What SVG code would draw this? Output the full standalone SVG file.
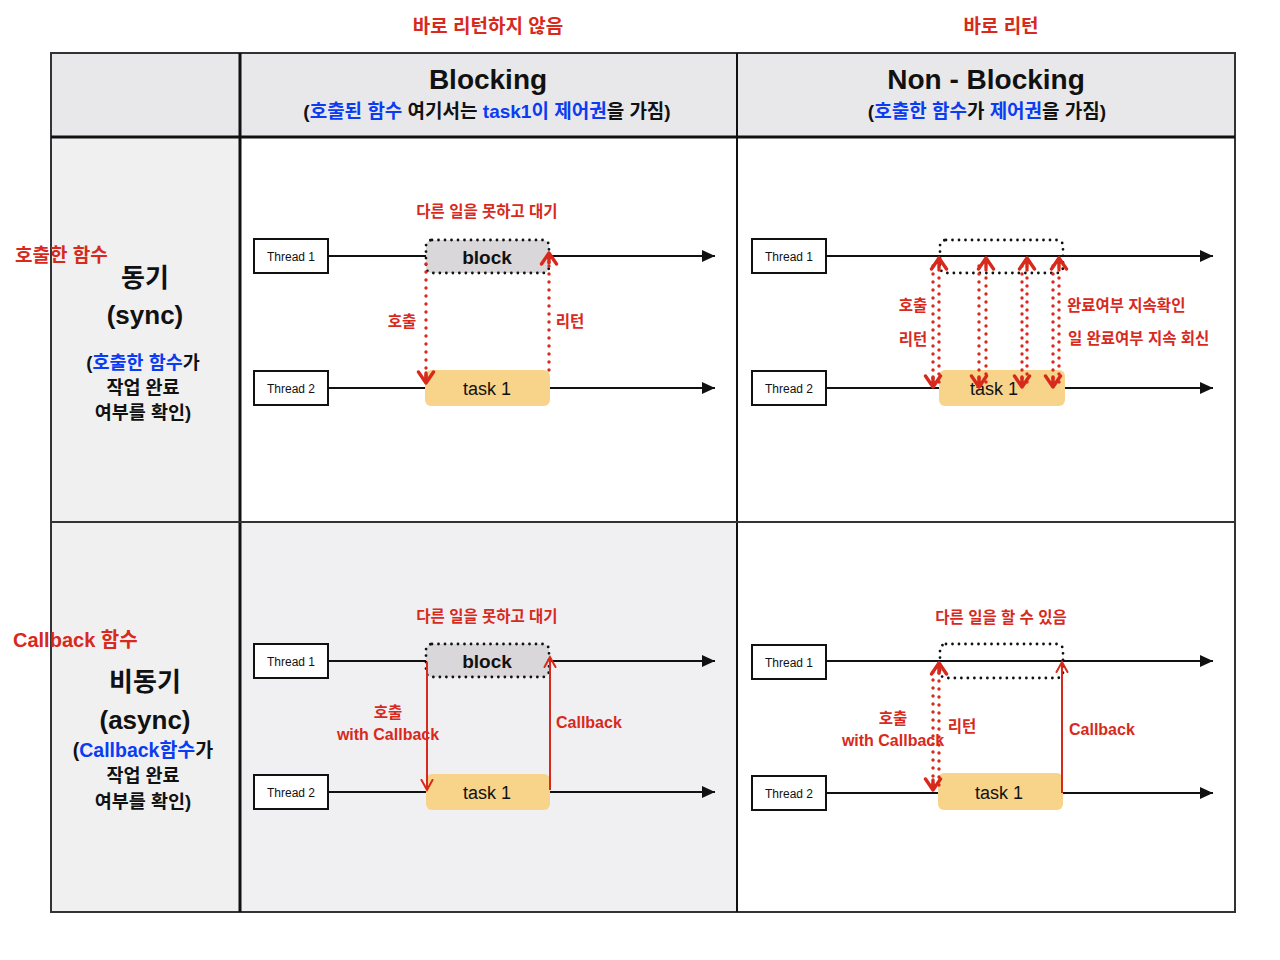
<svg xmlns="http://www.w3.org/2000/svg" width="1280" height="960" viewBox="0 0 1280 960">
<defs>
<style>
text{font-family:"Liberation Sans","Noto Sans CJK KR",sans-serif;}
.red{fill:#d8291d;font-weight:bold;font-size:15.5px;}
.blue{fill:#0b3cf2;}
.hd{font-weight:bold;fill:#111;}
.thr{fill:#fff;stroke:#111;stroke-width:2;}
.thrt{font-size:12px;fill:#111;text-anchor:middle;}
.tl{stroke:#111;stroke-width:2;fill:none;marker-end:url(#ba);}
.tl0{stroke:#111;stroke-width:2;fill:none;}
.blk{fill:#d9d7d9;stroke:#111;stroke-width:2.8;stroke-dasharray:0 6.5;stroke-linecap:round;}
.dot{fill:none;stroke:#111;stroke-width:2.8;stroke-dasharray:0 6.5;stroke-linecap:round;}
.task{fill:#f8d48a;}
.rd{stroke:#d8291d;stroke-width:3.4;stroke-dasharray:0 8;stroke-linecap:round;fill:none;marker-end:url(#ra);}
.rs{stroke:#d8291d;stroke-width:2;fill:none;marker-end:url(#ra2);}
.lbl{font-size:18px;fill:#111;text-anchor:middle;}
</style>
<marker id="ba" markerUnits="userSpaceOnUse" markerWidth="14" markerHeight="12" refX="13" refY="6" orient="auto"><path d="M0,0 L13,6 L0,12 z" fill="#111"/></marker>
<marker id="ra" markerUnits="userSpaceOnUse" markerWidth="16" markerHeight="20" refX="13" refY="10" orient="auto"><path d="M2,2.5 L13,10 L2,17.5 M13,10 L3,10" fill="none" stroke="#d8291d" stroke-width="3.4" stroke-linecap="round" stroke-linejoin="round"/></marker>
<marker id="ra2" markerUnits="userSpaceOnUse" markerWidth="14" markerHeight="14" refX="11" refY="7" orient="auto"><path d="M1,1.5 L11,7 L1,12.5" fill="none" stroke="#d8291d" stroke-width="2" stroke-linecap="round"/></marker>
</defs>
<rect width="1280" height="960" fill="#fff"/>

<g id="table">
<rect x="51" y="53" width="1184" height="84" fill="#e8e8ea"/>
<rect x="51" y="137" width="189" height="775" fill="#f0f0f0"/>
<rect x="240" y="522" width="497" height="390" fill="#f0f0f2"/>
<rect x="51" y="53" width="1184" height="859" fill="none" stroke="#333" stroke-width="2"/>
<line x1="240" y1="53" x2="240" y2="912" stroke="#111" stroke-width="3"/>
<line x1="737" y1="53" x2="737" y2="912" stroke="#111" stroke-width="2"/>
<line x1="51" y1="137" x2="1235" y2="137" stroke="#111" stroke-width="3"/>
<line x1="51" y1="522" x2="1235" y2="522" stroke="#333" stroke-width="2"/>
</g>

<g id="top-labels">
<text x="488" y="33" class="red" text-anchor="middle" style="font-size:19px">바로 리턴하지 않음</text>
<text x="1001" y="33" class="red" text-anchor="middle" style="font-size:19px">바로 리턴</text>
</g>

<g id="header-blocking">
<text x="488" y="89" class="hd" font-size="28" text-anchor="middle">Blocking</text>
<text x="487" y="118" class="hd" font-size="19" text-anchor="middle">(<tspan class="blue">호출된 함수</tspan> 여기서는 <tspan class="blue">task1이 제어권</tspan>을 가짐)</text>
</g>
<g id="header-nonblocking">
<text x="986" y="89" class="hd" font-size="28" text-anchor="middle">Non - Blocking</text>
<text x="987" y="118" class="hd" font-size="19" text-anchor="middle">(<tspan class="blue">호출한 함수</tspan>가 <tspan class="blue">제어권</tspan>을 가짐)</text>
</g>

<g id="row-sync">
<text x="15" y="262" class="red" style="font-size:19px">호출한 함수</text>
<text x="145" y="287" class="hd" font-size="26" text-anchor="middle">동기</text>
<text x="145" y="324" class="hd" font-size="26" text-anchor="middle">(sync)</text>
<text x="143" y="369" class="hd" font-size="18.5" text-anchor="middle">(<tspan class="blue">호출한 함수</tspan>가</text>
<text x="143" y="394" class="hd" font-size="18.5" text-anchor="middle">작업 완료</text>
<text x="143" y="419" class="hd" font-size="18.5" text-anchor="middle">여부를 확인)</text>
</g>
<g id="row-async">
<text x="13" y="647" class="red" style="font-size:20px">Callback 함수</text>
<text x="145" y="691" class="hd" font-size="26" text-anchor="middle">비동기</text>
<text x="145" y="729" class="hd" font-size="26" text-anchor="middle">(async)</text>
<text x="143" y="757" class="hd" font-size="19.5" text-anchor="middle">(<tspan class="blue">Callback함수</tspan>가</text>
<text x="143" y="782" class="hd" font-size="18.5" text-anchor="middle">작업 완료</text>
<text x="143" y="808" class="hd" font-size="18.5" text-anchor="middle">여부를 확인)</text>
</g>

<g id="connectors">
<line x1="328" y1="256" x2="426" y2="256" class="tl0"/>
<line x1="549" y1="256" x2="715" y2="256" class="tl"/>
<line x1="328" y1="388" x2="715" y2="388" class="tl"/>
<line x1="826" y1="256" x2="1213" y2="256" class="tl"/>
<line x1="826" y1="388" x2="1213" y2="388" class="tl"/>
<line x1="328" y1="661" x2="426" y2="661" class="tl0"/>
<line x1="549" y1="661" x2="715" y2="661" class="tl"/>
<line x1="328" y1="792" x2="715" y2="792" class="tl"/>
<line x1="826" y1="661" x2="1213" y2="661" class="tl"/>
<line x1="826" y1="793" x2="1213" y2="793" class="tl"/>
</g>

<!-- sync blocking -->
<g id="sb-thread1"><rect x="254" y="239" width="74" height="34" class="thr"/><text x="291" y="261" class="thrt">Thread 1</text></g>
<g id="sb-thread2"><rect x="254" y="371" width="74" height="34" class="thr"/><text x="291" y="393" class="thrt">Thread 2</text></g>
<g id="sb-block"><rect x="426" y="240" width="123" height="33" rx="6" class="blk"/><text x="487" y="264" font-size="19" font-weight="bold" fill="#111" text-anchor="middle">block</text></g>
<g id="sb-task"><rect x="425" y="370" width="125" height="36" rx="6" class="task"/><text x="487" y="395" class="lbl">task 1</text></g>

<!-- sync nonblocking -->
<g id="sn-thread1"><rect x="752" y="239" width="74" height="34" class="thr"/><text x="789" y="261" class="thrt">Thread 1</text></g>
<g id="sn-thread2"><rect x="752" y="371" width="74" height="34" class="thr"/><text x="789" y="393" class="thrt">Thread 2</text></g>
<g id="sn-wait"><rect x="940" y="240" width="123" height="33" rx="6" class="dot"/></g>
<g id="sn-task"><rect x="939" y="370" width="126" height="36" rx="6" class="task"/><text x="994" y="395" class="lbl">task 1</text></g>

<!-- async blocking -->
<g id="ab-thread1"><rect x="254" y="644" width="74" height="34" class="thr"/><text x="291" y="666" class="thrt">Thread 1</text></g>
<g id="ab-thread2"><rect x="254" y="775" width="74" height="34" class="thr"/><text x="291" y="797" class="thrt">Thread 2</text></g>
<g id="ab-block"><rect x="426" y="644" width="123" height="33" rx="6" class="blk"/><text x="487" y="668" font-size="19" font-weight="bold" fill="#111" text-anchor="middle">block</text></g>
<g id="ab-task"><rect x="426" y="774" width="124" height="36" rx="6" class="task"/><text x="487" y="799" class="lbl">task 1</text></g>

<!-- async nonblocking -->
<g id="an-thread1"><rect x="752" y="645" width="74" height="34" class="thr"/><text x="789" y="667" class="thrt">Thread 1</text></g>
<g id="an-thread2"><rect x="752" y="776" width="74" height="34" class="thr"/><text x="789" y="798" class="thrt">Thread 2</text></g>
<g id="an-wait"><rect x="940" y="644" width="123" height="34" rx="6" class="dot"/></g>
<g id="an-task"><rect x="938" y="773" width="125" height="37" rx="6" class="task"/><text x="999" y="799" class="lbl">task 1</text></g>

<g id="call-connectors">
<path d="M426,264 L426,383" class="rd"/>
<path d="M549,370 L549,253" class="rd"/>
<path d="M933,266 L933,387" class="rd"/>
<path d="M939,382 L939,258" class="rd"/>
<path d="M979,266 L979,387" class="rd"/>
<path d="M986,382 L986,258" class="rd"/>
<path d="M1022,266 L1022,387" class="rd"/>
<path d="M1027,382 L1027,258" class="rd"/>
<path d="M1053,266 L1053,387" class="rd"/>
<path d="M1059,382 L1059,258" class="rd"/>
<path d="M427,662 L427,790" class="rs"/>
<path d="M550,790 L550,657" class="rs"/>
<path d="M933,672 L933,790" class="rd"/>
<path d="M939,785 L939,663" class="rd"/>
<path d="M1062,793 L1062,662" class="rs"/>
</g>

<g id="labels">
<text x="487" y="217" class="red" text-anchor="middle">다른 일을 못하고 대기</text>
<text x="402" y="327" class="red" text-anchor="middle">호출</text>
<text x="570" y="327" class="red" text-anchor="middle">리턴</text>
<text x="913" y="311" class="red" text-anchor="middle">호출</text>
<text x="913" y="345" class="red" text-anchor="middle">리턴</text>
<text x="1067" y="311" class="red">완료여부 지속확인</text>
<text x="1068" y="344" class="red">일 완료여부 지속 회신</text>
<text x="487" y="622" class="red" text-anchor="middle">다른 일을 못하고 대기</text>
<text x="388" y="718" class="red" text-anchor="middle">호출</text>
<text x="388" y="740" class="red" text-anchor="middle" style="font-size:16px">with Callback</text>
<text x="556" y="728" class="red" style="font-size:16px">Callback</text>
<text x="1001" y="623" class="red" text-anchor="middle">다른 일을 할 수 있음</text>
<text x="893" y="724" class="red" text-anchor="middle">호출</text>
<text x="893" y="746" class="red" text-anchor="middle" style="font-size:16px">with Callback</text>
<text x="962" y="732" class="red" text-anchor="middle">리턴</text>
<text x="1069" y="735" class="red" style="font-size:16px">Callback</text>
</g>
</svg>
